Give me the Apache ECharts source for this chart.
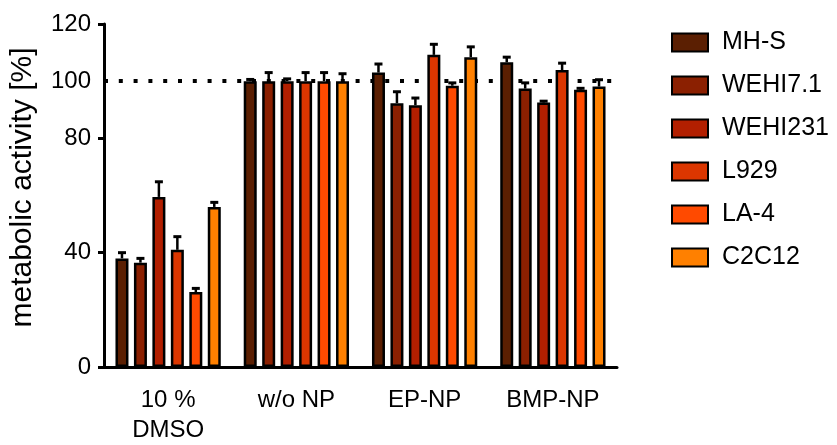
<!DOCTYPE html>
<html>
<head>
<meta charset="utf-8">
<script src="https://cdn.jsdelivr.net/npm/echarts@6/dist/echarts.min.js"></script>
<style>html,body{margin:0;padding:0;background:#fff}#c{width:837px;height:445px}</style>
</head>
<body>
<div id="c"></div>
<script>
const categories = ['10 %\nDMSO', 'w/o NP', 'EP-NP', 'BMP-NP'];
const seriesNames = ['MH-S', 'WEHI7.1', 'WEHI231', 'L929', 'LA-4', 'C2C12'];
const colors = ['#5b1f02', '#8b2001', '#b21f00', '#db3600', '#ff4a00', '#ff8000'];
const mhsValues = [38, 100, 103, 106.6];
const wehi71Values = [36.5, 100, 92.3, 97.4];
const wehi231Values = [59.5, 100, 91.6, 92.5];
const l929Values = [41, 100, 109.2, 103.9];
const la4Values = [26.2, 100, 98.4, 97];
const c2c12Values = [56, 100, 108.4, 98.1];
const mhsErrors = [2, 0.6, 3, 1.8];
const wehi71Errors = [1.5, 3, 4, 2];
const wehi231Errors = [5.3, 0.8, 2.5, 0.5];
const l929Errors = [4.6, 3, 3.7, 2.4];
const la4Errors = [1.3, 3, 1, 0.5];
const c2c12Errors = [1.6, 2.6, 3.6, 2.4];
const yLabelValues = [0, 40, 80, 100, 120];
const yTickValues = [0, 40, 80, 120];
const referenceLevel = 100;

const allValues = [mhsValues, wehi71Values, wehi231Values, l929Values, la4Values, c2c12Values];
const allErrors = [mhsErrors, wehi71Errors, wehi231Errors, l929Errors, la4Errors, c2c12Errors];

const FONT = '"Liberation Sans", Arial, sans-serif';
const BAR_W = 13;
const GAP = 0.42;
const STEP = BAR_W * (1 + GAP);

const series = [];
seriesNames.forEach((name, k) => {
  const s = {
    name: name,
    type: 'bar',
    barWidth: BAR_W,
    barGap: (GAP * 100) + '%',
    data: allValues[k],
    itemStyle: { color: colors[k], borderColor: '#000', borderWidth: 2.5 },
    emphasis: { disabled: true },
    z: 2
  };
  if (k === 0) {
    s.markLine = {
      silent: true,
      symbol: 'none',
      label: { show: false },
      lineStyle: { color: '#000', width: 4, type: [4, 10.8], cap: 'butt' },
      data: [{ yAxis: referenceLevel }],
      z: 1
    };
  }
  series.push(s);
});
seriesNames.forEach((name, k) => {
  series.push({
    type: 'custom',
    name: name + ' err',
    silent: true,
    z: 3,
    data: allValues[k].map((v, i) => [i, v, allErrors[k][i]]),
    encode: { x: 0, y: 1 },
    renderItem: function (params, api) {
      const c = api.value(0), v = api.value(1), e = api.value(2);
      const base = api.coord([c, v]);
      const top = api.coord([c, v + e]);
      const x = base[0] + (k - 2.5) * STEP;
      return {
        type: 'group',
        children: [
          { type: 'line', shape: { x1: x, y1: base[1], x2: x, y2: top[1] }, style: { stroke: '#000', lineWidth: 2.5 } },
          { type: 'line', shape: { x1: x - 4, y1: top[1], x2: x + 4, y2: top[1] }, style: { stroke: '#000', lineWidth: 3 } }
        ]
      };
    }
  });
});

const chart = echarts.init(document.getElementById('c'), null, { renderer: 'canvas' });
chart.setOption({
  animation: false,
  backgroundColor: '#fff',
  textStyle: { fontFamily: FONT },
  grid: { left: 98, right: 220, top: 24, bottom: 77, containLabel: false },
  legend: {
    data: seriesNames,
    orient: 'vertical',
    left: 666,
    top: 25,
    icon: 'rect',
    itemWidth: 36,
    itemHeight: 18,
    itemGap: 18,
    selectedMode: false,
    textStyle: { fontSize: 25, color: '#000', fontFamily: FONT, padding: [0, 0, 0, 9] }
  },
  xAxis: {
    type: 'category',
    data: categories,
    axisLine: { lineStyle: { color: '#000', width: 3 } },
    axisTick: { show: false },
    axisLabel: { color: '#000', fontSize: 24, lineHeight: 30, margin: 18, fontFamily: FONT }
  },
  yAxis: {
    type: 'value',
    min: 0,
    max: 120,
    interval: 20,
    name: 'metabolic activity [%]',
    nameLocation: 'middle',
    nameGap: 66,
    nameTextStyle: { color: '#000', fontSize: 30, fontFamily: FONT, padding: [0, 0, 0, 16] },
    splitLine: { show: false },
    axisLine: { show: true, lineStyle: { color: '#000', width: 3 } },
    axisTick: { show: true, length: 6, lineStyle: { color: '#000', width: 3 }, customValues: yTickValues },
    axisLabel: { color: '#000', fontSize: 24, margin: 13, fontFamily: FONT, customValues: yLabelValues }
  },
  series: series
});
</script>
</body>
</html>
